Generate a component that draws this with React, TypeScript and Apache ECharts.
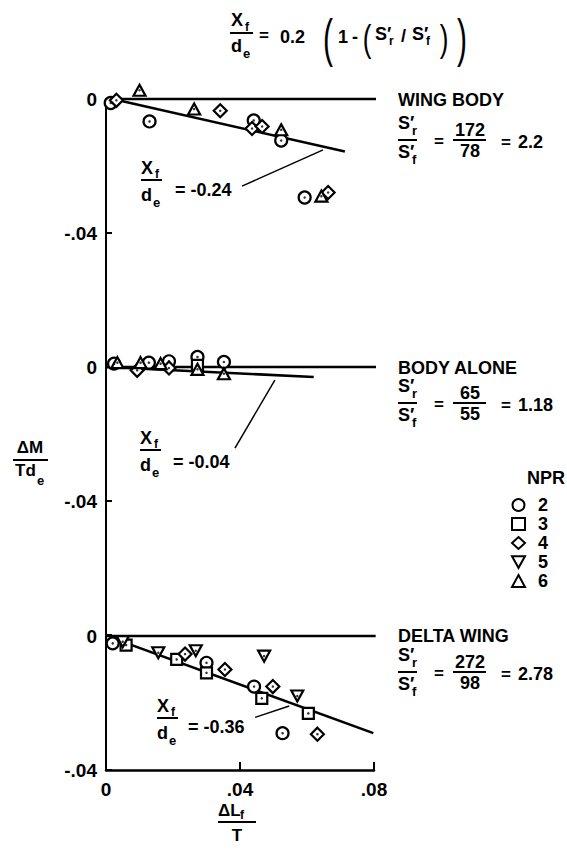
import React, { useEffect, useRef } from "react";
import * as echarts from "echarts";

// ---------- data (x = ΔLf/T, y = ΔM/Tde) ----------
const xTicks = ["0", ".04", ".08"];
const legendNames = ["2", "3", "4", "5", "6"];

// WING BODY
const wbNpr2 = [[0.0014, -0.0012], [0.013, -0.0067], [0.0441, -0.0064], [0.0523, -0.0124], [0.0593, -0.0294]];
const wbNpr3: number[][] = [];
const wbNpr4 = [[0.0031, -0.0004], [0.0341, -0.0035], [0.0436, -0.0088], [0.0466, -0.0082], [0.0663, -0.0279]];
const wbNpr5: number[][] = [];
const wbNpr6 = [[0.010, 0.0026], [0.0263, -0.003], [0.0523, -0.0092], [0.0643, -0.029]];
const wbZero = [[0, 0], [0.0825, 0]];
const wbFit = [[0.002, 0], [0.0713, -0.0157]];
const wbLeader = [[0.0406, -0.026], [0.0648, -0.0152]];

// BODY ALONE
const baNpr2 = [[0.0024, 0.001], [0.0128, 0.0013], [0.0188, 0.0017], [0.0273, 0.003], [0.0352, 0.0015]];
const baNpr3 = [[0.0273, 0.0005]];
const baNpr4 = [[0.0093, -0.001], [0.0188, -0.0003]];
const baNpr5: number[][] = [];
const baNpr6 = [[0.0034, 0.0013], [0.0103, 0.0013], [0.0163, 0.001], [0.0273, -0.0007], [0.0352, -0.002]];
const baZero = [[0, 0], [0.0825, 0]];
const baFit = [[0, 0], [0.062, -0.003]];
const baLeader = [[0.0385, -0.0242], [0.0504, -0.0039]];

// DELTA WING
const dwNpr2 = [[0.002, -0.0022], [0.030, -0.008], [0.0442, -0.0151], [0.0527, -0.029]];
const dwNpr3 = [[0.006, -0.0027], [0.0211, -0.007], [0.030, -0.011], [0.0465, -0.0186], [0.0604, -0.0231]];
const dwNpr4 = [[0.0236, -0.0054], [0.0355, -0.01], [0.0498, -0.0151], [0.0631, -0.0293]];
const dwNpr5 = [[0.005, -0.0017], [0.0156, -0.005], [0.0268, -0.0044], [0.0472, -0.006], [0.0571, -0.0179]];
const dwNpr6: number[][] = [];
const dwZero = [[0, 0], [0.0805, 0]];
const dwFit = [[0.003, -0.001], [0.0798, -0.029]];
const dwLeader = [[0.0445, -0.0243], [0.0547, -0.0209]];

const FONT = '"Liberation Sans", Arial, Helvetica, sans-serif';
const TRI_DOWN = "path://M0,0L10,0L5,9Z";
const symbols = ["circle", "rect", "diamond", TRI_DOWN, "triangle"];
const symSizes: any[] = [12, 11, [13, 13], [12, 11], [12, 11]];

function txt(text: string, x: number, y: number, size: number, align = "left", weight = "bold", scaleY = 1) {
  return {
    type: "text",
    x,
    y,
    scaleY,
    silent: true,
    style: {
      text,
      fontSize: size,
      fontWeight: weight,
      fontFamily: FONT,
      fill: "#000",
      textAlign: align,
      align,
      textVerticalAlign: "middle",
      verticalAlign: "middle",
    },
  };
}
function hline(x1: number, x2: number, y: number, w = 2) {
  return { type: "line", silent: true, shape: { x1, y1: y, x2, y2: y }, style: { stroke: "#000", lineWidth: w } };
}
// S′ with subscript
function sPrime(x: number, y: number, sub: string) {
  return [txt("S\u2032", x, y, 18), txt(sub, x + 14, y + 7, 13)];
}
function ratioBlock(x: number, yTitle: number, off: number, title: string, num: string, den: string, val: string) {
  const yb = yTitle + off;
  return [
    txt(title, x, yTitle, 18),
    ...sPrime(x, yb - 17, "r"),
    hline(x, x + 19, yb),
    ...sPrime(x, yb + 12, "f"),
    txt("=", x + 36, yb + 1, 17),
    txt(num, x + 72, yb - 10, 18, "center"),
    hline(x + 55, x + 88, yb),
    txt(den, x + 72, yb + 11, 18, "center"),
    txt("=", x + 103, yb + 2, 17),
    txt(val, x + 120, yb + 2, 18),
  ];
}
function xfBlock(x: number, yBar: number, xEq: number, yEq: number, val: string) {
  return [
    txt("X", x, yBar - 12, 18),
    txt("f", x + 14, yBar - 6, 12),
    hline(x, x + 21, yBar),
    txt("d", x, yBar + 15, 18),
    txt("e", x + 12, yBar + 22, 13),
    txt("= " + val, xEq, yEq, 18),
  ];
}

export default function App() {
  const ref = useRef<HTMLDivElement>(null);
  useEffect(() => {
    document.body.style.margin = "0";
    if (!ref.current) return;
    const chart = echarts.init(ref.current, undefined, { renderer: "svg" });

    const gridTops = [99, 367, 636];
    const gridHeights = [268, 268, 134];
    const yMins = [-0.08, -0.08, -0.04];
    const panelPts = [
      [wbNpr2, wbNpr3, wbNpr4, wbNpr5, wbNpr6],
      [baNpr2, baNpr3, baNpr4, baNpr5, baNpr6],
      [dwNpr2, dwNpr3, dwNpr4, dwNpr5, dwNpr6],
    ];
    const panelLines = [
      [wbZero, wbFit, wbLeader],
      [baZero, baFit, baLeader],
      [dwZero, dwFit, dwLeader],
    ];
    const lineWidths = [2.6, 2.6, 1.5];

    const grid = gridTops.map((t, i) => ({ left: 106, top: t, width: 268, height: gridHeights[i], containLabel: false }));
    const xAxis = gridTops.map((_, i) => ({
      type: "value",
      gridIndex: i,
      min: 0,
      max: 0.08,
      interval: 0.04,
      show: i === 2,
      position: "bottom",
      axisLine: { show: true, onZero: false, lineStyle: { color: "#000", width: 2.5 } },
      axisTick: { show: true, inside: true, length: 8, lineStyle: { color: "#000", width: 2 } },
      splitLine: { show: false },
      axisLabel: {
        color: "#000",
        fontSize: 19,
        fontWeight: "bold",
        fontFamily: FONT,
        margin: 10,
        formatter: (v: number) => xTicks[Math.round(v / 0.04)] ?? "",
      },
    }));
    const yAxis = gridTops.map((_, i) => ({
      type: "value",
      gridIndex: i,
      min: yMins[i],
      max: 0,
      interval: 0.04,
      axisLine: { show: true, onZero: false, lineStyle: { color: "#000", width: 2 } },
      axisTick: { show: true, inside: true, length: 6, lineStyle: { color: "#000", width: 2 } },
      splitLine: { show: false },
      axisLabel: {
        color: "#000",
        fontSize: 19,
        fontWeight: "bold",
        fontFamily: FONT,
        margin: 9,
        formatter: (v: number) => (Math.abs(v) < 1e-9 ? "0" : Math.abs(v + 0.04) < 1e-9 ? "-.04" : ""),
      },
    }));

    const series: any[] = [];
    panelLines.forEach((lines, p) => {
      lines.forEach((d, k) => {
        series.push({
          type: "line",
          xAxisIndex: p,
          yAxisIndex: p,
          data: d,
          symbol: "none",
          clip: false,
          silent: true,
          lineStyle: { color: "#000", width: lineWidths[k] },
          z: 1,
        });
      });
    });
    panelPts.forEach((group, p) => {
      const all: number[][] = [];
      group.forEach((d, k) => {
        all.push(...d);
        series.push({
          type: "scatter",
          name: legendNames[k],
          xAxisIndex: p,
          yAxisIndex: p,
          data: d,
          symbol: symbols[k],
          symbolSize: symSizes[k],
          clip: false,
          itemStyle: { color: "#fff", borderColor: "#000", borderWidth: 2.2, opacity: 1 },
          z: 3,
        });
      });
      series.push({
        type: "scatter",
        name: "dot",
        xAxisIndex: p,
        yAxisIndex: p,
        data: all,
        symbol: "circle",
        symbolSize: 2.5,
        clip: false,
        silent: true,
        itemStyle: { color: "#000" },
        z: 4,
      });
    });

    const graphic: any[] = [
      // top formula
      txt("X", 231, 20, 18),
      txt("f", 245, 27, 12),
      hline(230, 253, 33),
      txt("d", 231, 46, 18),
      txt("e", 243, 53, 13),
      txt("=", 259, 35, 17),
      txt("0.2", 280, 37, 18),
      txt("(", 328, 38, 30, "center", "normal", 1.75),
      txt("1", 338, 37, 18),
      txt("-", 352, 37, 18),
      txt("(", 367, 38, 26, "center", "normal", 1.45),
      txt("S\u2032", 375, 34, 18),
      txt("r", 389, 41, 12),
      txt("/", 401, 36, 18),
      txt("S\u2032", 412, 34, 18),
      txt("f", 426, 41, 12),
      txt(")", 444, 38, 26, "center", "normal", 1.45),
      txt(")", 462, 38, 30, "center", "normal", 1.75),
      // y title
      txt("\u0394M", 30, 447, 17, "center"),
      hline(13, 48, 460),
      txt("Td", 15, 470, 17),
      txt("e", 37, 480, 13),
      // x title
      txt("\u0394L", 218, 810, 17),
      txt("f", 240, 815, 12),
      hline(218, 256, 822),
      txt("T", 237, 835, 17, "center"),
      // right labels
      ...ratioBlock(398, 100, 40, "WING BODY", "172", "78", "2.2"),
      ...ratioBlock(398, 368, 35, "BODY ALONE", "65", "55", "1.18"),
      ...ratioBlock(398, 636, 36, "DELTA WING", "272", "98", "2.78"),
      // Xf/de labels
      ...xfBlock(141, 180, 175, 190, "-0.24"),
      ...xfBlock(140, 450, 173, 462, "-0.04"),
      ...xfBlock(157, 718, 188, 727, "-0.36"),
      // legend title
      txt("NPR", 527, 478, 18),
    ];

    chart.setOption({
      animation: false,
      backgroundColor: "#fff",
      grid,
      xAxis,
      yAxis,
      series,
      legend: {
        data: legendNames,
        orient: "vertical",
        left: 506,
        top: 491,
        itemWidth: 13,
        itemHeight: 12,
        itemGap: 1,
        selectedMode: false,
        textStyle: {
          color: "#000",
          fontSize: 18,
          fontWeight: "bold",
          fontFamily: FONT,
          lineHeight: 18,
          padding: [0, 0, 0, 8],
        },
      },
      graphic,
    });
    return () => chart.dispose();
  }, []);
  return <div ref={ref} style={{ width: 567, height: 854 }} />;
}
